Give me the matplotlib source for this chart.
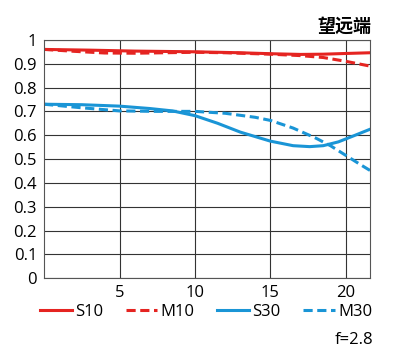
import numpy as np
import matplotlib.pyplot as plt

# -------------------------------------------------
# Data
# -------------------------------------------------

x_s10 = [0, 3, 6, 10, 13, 15, 17, 18.5, 20, 21.6]
s10 = [0.960, 0.957, 0.953, 0.950, 0.946, 0.942, 0.939, 0.940, 0.943, 0.946]

x_m10 = [0, 2, 4, 6, 8, 10, 12, 15, 17, 18.5, 20, 21.6]
m10 = [0.960, 0.952, 0.945, 0.944, 0.946, 0.948, 0.946, 0.940, 0.934, 0.926, 0.910, 0.890]

x_s30 = [0, 2.5, 5, 7, 8.5, 10, 11.5, 13, 15, 16.5, 17.6, 18.5, 19.5, 20.5, 21.6]
s30 = [0.730, 0.728, 0.722, 0.712, 0.702, 0.682, 0.650, 0.613, 0.575, 0.556, 0.552, 0.556, 0.572, 0.597, 0.625]

x_m30 = [0, 2.5, 5, 7.5, 10, 12, 14, 15, 16.5, 18, 19, 20, 21, 21.6]
m30 = [0.730, 0.715, 0.702, 0.700, 0.700, 0.692, 0.675, 0.662, 0.630, 0.588, 0.555, 0.515, 0.475, 0.452]

x_ticks = [5, 10, 15, 20]
y_ticks = [0, 0.1, 0.2, 0.3, 0.4, 0.5, 0.6, 0.7, 0.8, 0.9, 1.0]
y_tick_labels = ["0", "0.1", "0.2", "0.3", "0.4", "0.5", "0.6", "0.7", "0.8", "0.9", "1"]

red = "#e52421"
blue = "#1a95d6"

plt.rcParams["font.family"] = ["Open Sans", "Noto Sans CJK SC", "DejaVu Sans"]

fig = plt.figure(figsize=(4.08, 3.53), dpi=100)
ax = fig.add_axes([0.108, 0.212, 0.799, 0.675])

ax.plot(x_s10, s10, color=red, linewidth=2.2, label="S10")
ax.plot(x_m10, m10, color=red, linewidth=2.2, linestyle=(0, (3, 1.5)), label="M10")
ax.plot(x_s30, s30, color=blue, linewidth=2.2, label="S30")
ax.plot(x_m30, m30, color=blue, linewidth=2.2, linestyle=(0, (3, 1.5)), label="M30")

ax.set_xlim(0, 21.6)
ax.set_ylim(0, 1)
ax.set_xticks(x_ticks)
ax.set_yticks(y_ticks)
ax.set_yticklabels(y_tick_labels)
ax.tick_params(length=0, labelsize=12, pad=5)
ax.grid(True, color="#333333", linewidth=0.8)
for side in ax.spines.values():
    side.set_color("#555555")
    side.set_linewidth(0.8)

fig.legend(
    loc="center",
    bbox_to_anchor=(0.505, 0.117),
    ncol=4,
    frameon=False,
    fontsize=12,
    handlelength=1.9,
    handletextpad=0.2,
    columnspacing=1.35,
)

fig.text(0.91, 0.925, "望远端", ha="right", va="center", fontsize=13,
         fontweight="bold", family=["Noto Sans CJK SC", "DejaVu Sans"])
fig.text(0.915, 0.037, "f=2.8", ha="right", va="center", fontsize=12)

plt.savefig("out.png", dpi=100)
